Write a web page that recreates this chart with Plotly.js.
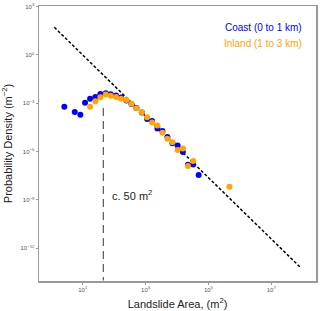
<!DOCTYPE html>
<html>
<head>
<meta charset="utf-8">
<script src="https://cdn.plot.ly/plotly-3.0.1.min.js"></script>
<style>html,body{margin:0;padding:0;background:#fff;}#chart{width:320px;height:311px;}</style>
</head>
<body>
<div id="chart"></div>
<script>
// Coast (0 to 1 km)
const coastArea = [2.59, 5.56, 8.39, 11.8, 17.1, 25.2, 36.4, 54.1, 78.0, 115, 166, 245, 354, 511, 759, 1119, 1614, 2382, 3443, 4966, 7161, 10500, 15380, 22180, 32730, 48980];
const coastDensity = [6.17e-4, 2.88e-4, 1.95e-4, 1.10e-3, 1.95e-3, 2.45e-3, 3.80e-3, 4.17e-3, 3.63e-3, 3.09e-3, 2.29e-3, 1.51e-3, 9.1e-4, 5.1e-4, 2.7e-4, 1.07e-4, 7.9e-5, 2.75e-5, 1.9e-5, 8.1e-6, 3.3e-6, 2.4e-6, 9.5e-7, 1.55e-7, 1.58e-7, 3.5e-8];
// Inland (1 to 3 km)
const inlandArea = [17.1, 25.2, 36.4, 54.1, 78.0, 115, 166, 245, 354, 511, 759, 1119, 1614, 2382, 3443, 4966, 7161, 10500, 15380, 22180, 32730, 466700];
const inlandDensity = [6.17e-4, 1.35e-3, 2.34e-3, 3.47e-3, 2.95e-3, 2.45e-3, 1.95e-3, 1.58e-3, 9.5e-4, 4.9e-4, 2.75e-4, 1.35e-4, 6.5e-5, 4.2e-5, 1.5e-5, 6.2e-6, 3.8e-6, 1.26e-6, 1.58e-6, 1.29e-7, 2.6e-7, 6.5e-9];
// Power-law fit line
const fitArea = [1.245, 9.06e7];
const fitDensity = [52.5, 5.75e-14];
// Rollover marker (c. 50 m2)
const rollArea = [45, 45];
const rollDensity = [5.1e-4, 1e-14];

const xTickVals = [1e1, 1e3, 1e5, 1e7];
const xTickText = ['10<sup>1</sup>', '10<sup>3</sup>', '10<sup>5</sup>', '10<sup>7</sup>'];
const yTickVals = [1e3, 1e0, 1e-3, 1e-6, 1e-9, 1e-12];
const yTickText = ['10<sup>3</sup>', '10<sup>0</sup>', '10<sup>−3</sup>', '10<sup>−6</sup>', '10<sup>−9</sup>', '10<sup>−12</sup>'];

const font = 'Liberation Sans, Arial, sans-serif';

const traces = [
  {x: fitArea, y: fitDensity, mode: 'lines', line: {color: '#000', width: 1.5, dash: '3px,2px'}, hoverinfo: 'skip'},
  {x: rollArea, y: rollDensity, mode: 'lines', line: {color: '#333', width: 1, dash: '8px,5px'}, hoverinfo: 'skip'},
  {x: coastArea, y: coastDensity, mode: 'markers', marker: {color: '#0000ff', size: 6}, name: 'Coast (0 to 1 km)'},
  {x: inlandArea, y: inlandDensity, mode: 'markers', marker: {color: '#ffa500', size: 6}, name: 'Inland (1 to 3 km)'}
];

const axisCommon = {
  type: 'log', showgrid: false, zeroline: false,
  showline: true, mirror: true, linecolor: '#999', linewidth: 1.5,
  ticks: 'outside', ticklen: 2, tickcolor: '#999',
  tickfont: {family: font, size: 6, color: '#555'}
};

const layout = {
  width: 320, height: 311,
  margin: {l: 39, r: 4, t: 6, b: 30},
  paper_bgcolor: '#fff', plot_bgcolor: '#fff',
  showlegend: false,
  font: {family: font},
  xaxis: Object.assign({}, axisCommon, {
    range: [-0.393, 8.425], tickvals: xTickVals, ticktext: xTickText,
    title: {text: 'Landslide Area, (m<sup>2</sup>)', font: {family: font, size: 11, color: '#222'}, standoff: 8}
  }),
  yaxis: Object.assign({}, axisCommon, {
    range: [-14.03, 3.04], tickvals: yTickVals, ticktext: yTickText,
    title: {text: 'Probability Density (m<sup>−2</sup>)', font: {family: font, size: 11, color: '#222'}, standoff: 6}
  }),
  annotations: [
    {xref: 'paper', yref: 'paper', x: 0.958, y: 0.92, xanchor: 'right', yanchor: 'middle', showarrow: false,
     text: 'Coast (0 to 1 km)', font: {family: font, size: 10, color: '#0000ff'}},
    {xref: 'paper', yref: 'paper', x: 0.958, y: 0.865, xanchor: 'right', yanchor: 'middle', showarrow: false,
     text: 'Inland (1 to 3 km)', font: {family: font, size: 10, color: '#ffa500'}},
    {xref: 'paper', yref: 'paper', x: 0.257, y: 0.313, xanchor: 'left', yanchor: 'middle', showarrow: false,
     text: 'c. 50 m<sup>2</sup>', font: {family: font, size: 11, color: '#222'}}
  ]
};

Plotly.newPlot('chart', traces, layout, {staticPlot: true, displayModeBar: false});
</script>
</body>
</html>
